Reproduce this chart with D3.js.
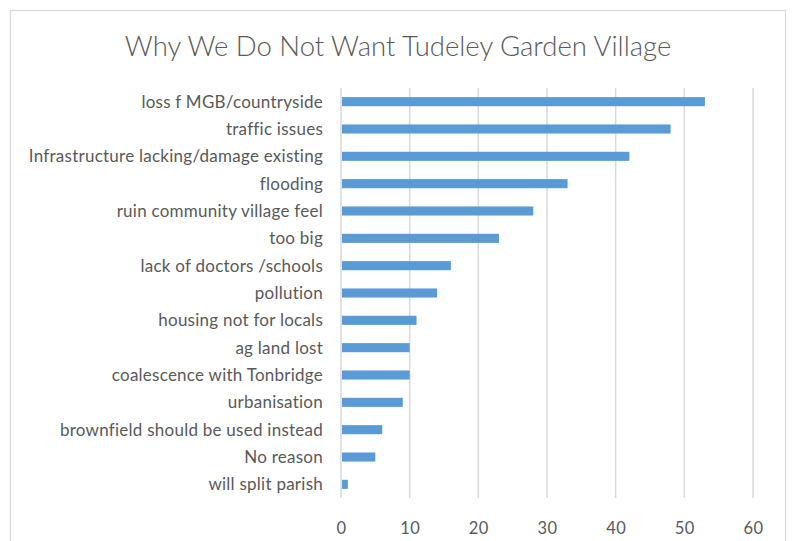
<!DOCTYPE html>
<html>
<head>
<meta charset="utf-8">
<script src="https://cdn.jsdelivr.net/npm/d3@7"></script>
<style>
  html, body { margin: 0; padding: 0; background: #fff; }
  svg { display: block; }
  text { font-family: Lato, "Open Sans", sans-serif; fill: #595959; }
</style>
</head>
<body>
<svg id="chart" width="792" height="541"></svg>
<script>
// Reasons given, top to bottom
const categories = [
  "loss f MGB/countryside",
  "traffic issues",
  "Infrastructure lacking/damage existing",
  "flooding",
  "ruin community village feel",
  "too big",
  "lack of doctors /schools",
  "pollution",
  "housing not for locals",
  "ag land lost",
  "coalescence with Tonbridge",
  "urbanisation",
  "brownfield should be used instead",
  "No reason",
  "will split parish"
];
const counts = [53, 48, 42, 33, 28, 23, 16, 14, 11, 10, 10, 9, 6, 5, 1];
const xTicks = [0, 10, 20, 30, 40, 50, 60];
const title = "Why We Do Not Want Tudeley Garden Village";

const plot = { left: 341, right: 753, top: 88, bottom: 498 };

const svg = d3.select("#chart");

// chart frame
svg.append("rect")
  .attr("x", 10.5).attr("y", 10.5)
  .attr("width", 775).attr("height", 545)
  .attr("fill", "#fff")
  .attr("stroke", "#d9d9d9")
  .attr("stroke-width", 1.3);

const x = d3.scaleLinear().domain([0, 60]).range([plot.left, plot.right]);
const y = d3.scaleBand().domain(categories).range([plot.top, plot.bottom]).paddingInner(0.667).paddingOuter(0.333);

// vertical gridlines
svg.append("g")
  .selectAll("line")
  .data(xTicks)
  .join("line")
  .attr("x1", d => x(d)).attr("x2", d => x(d))
  .attr("y1", plot.top).attr("y2", plot.bottom)
  .attr("stroke", "#d9d9d9")
  .attr("stroke-width", 1.5);

// bars
svg.append("g")
  .selectAll("rect")
  .data(categories)
  .join("rect")
  .attr("x", x(0) + 1)
  .attr("y", d => y(d))
  .attr("width", (d, i) => x(counts[i]) - x(0) - 1)
  .attr("height", y.bandwidth())
  .attr("fill", "#5b9bd5");

// x axis labels
const xAxis = svg.append("g")
  .attr("transform", `translate(0,${plot.bottom})`)
  .call(d3.axisBottom(x).tickValues(xTicks).tickSize(0).tickPadding(24));
xAxis.select(".domain").remove();
xAxis.selectAll("text")
  .style("font-size", "16.5px")
  .style("letter-spacing", "0.4px")
  .attr("fill", "#595959");

// category labels
const yAxis = svg.append("g")
  .attr("transform", `translate(${plot.left},0)`)
  .call(d3.axisLeft(y).tickSize(0).tickPadding(18));
yAxis.select(".domain").remove();
yAxis.selectAll("text")
  .attr("dy", "0.36em")
  .style("font-size", "17px")
  .style("letter-spacing", "0.25px")
  .attr("fill", "#595959");

// title
svg.append("text")
  .attr("x", 398)
  .attr("y", 56)
  .attr("text-anchor", "middle")
  .style("font-size", "27.5px")
  .style("font-weight", 300)
  .text(title);
</script>
</body>
</html>
